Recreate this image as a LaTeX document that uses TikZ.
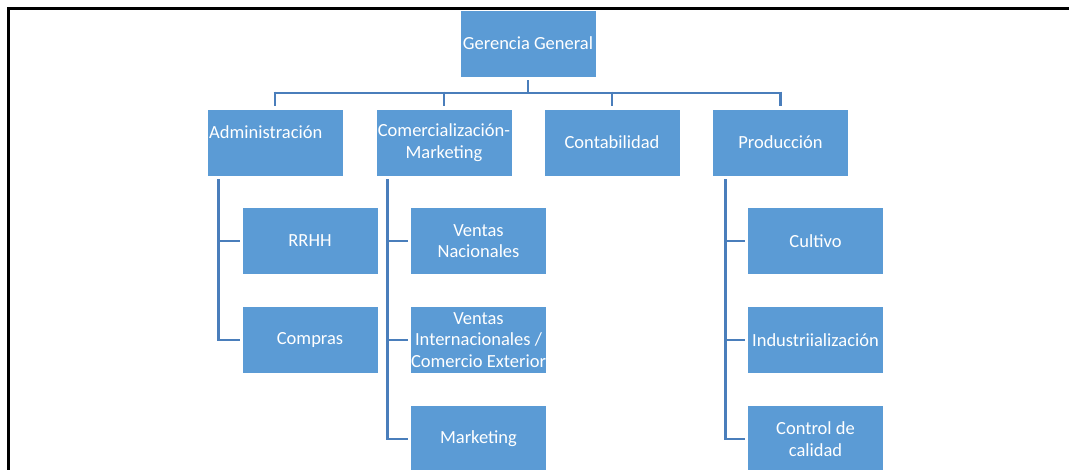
\documentclass[tikz,border=0pt]{standalone}
\usepackage{fontspec}
\setmainfont{Carlito}
\definecolor{boxblue}{RGB}{91,155,213}
\definecolor{linkblue}{RGB}{74,126,187}
\begin{document}
\begin{tikzpicture}[x=1pt,y=-1pt,
  orgbox/.style={fill=boxblue,draw=white,line width=0.8pt,minimum width=136pt,minimum height=67pt,
    inner sep=0pt,text=white,align=center,font=\fontsize{18.5}{21.5}\selectfont},
  conn/.style={draw=linkblue,line width=2.8pt}]
\useasboundingbox (0,0) rectangle (1069,470);
\clip (0,0) rectangle (1069,470);
% frame
\draw[line width=3pt,black] (8,475) -- (8,8.5) -- (1075,8.5);
% top
\node[orgbox] (g) at (528,43.5) {Gerencia General};
% level 2
\node[orgbox] (adm) at (275,142.5) {};
\node[text=white,anchor=west,inner sep=0pt,font=\fontsize{18.5}{21.5}\selectfont] (admt) at (209,132.5) {Administración};
\node[orgbox] (com) at (444,142.5) {Comercialización-\\Marketing};
\node[orgbox] (con) at (612,142.5) {Contabilidad};
\node[orgbox] (pro) at (780.5,142.5) {Producción};
% level 3
\node[orgbox] (rrhh) at (310,241) {RRHH};
\node[orgbox] (comp) at (310,340) {Compras};
\node[orgbox] (vn) at (478.5,241) {Ventas\\Nacionales};
\node[orgbox] (vi) at (478.5,340) {Ventas\\Internacionales /\\Comercio Exterior};
\node[orgbox] (mkt) at (478.5,439) {Marketing};
\node[orgbox] (cul) at (815.5,241) {Cultivo};
\node[orgbox] (ind) at (815.5,340) {Industriialización};
\node[orgbox] (cc) at (815.5,439) {Control de\\calidad};
% connectors top
\coordinate (bar) at (0,93);
\draw[conn] ([yshift=-3pt]g.south) -- (g.south |- bar);
\draw[conn] ([xshift=-1.4pt]adm.north |- bar) -- ([xshift=1.4pt]pro.north |- bar);
\foreach \n in {adm,com,con,pro}{
  \draw[conn] ([yshift=1.4pt]\n.north |- bar) -- ([yshift=3pt]\n.north);
}
% side connectors
\coordinate (admv) at ([xshift=12pt,yshift=-3pt]adm.south west);
\coordinate (comv) at ([xshift=12pt,yshift=-3pt]com.south west);
\coordinate (prov) at ([xshift=13pt,yshift=-3pt]pro.south west);
\draw[conn] (admv) -- (admv |- comp.west) -- ([xshift=-2pt]comp.west);
\draw[conn] (admv |- rrhh.west) -- ([xshift=-2pt]rrhh.west);
\draw[conn] (comv) -- (comv |- mkt.west) -- ([xshift=-2pt]mkt.west);
\draw[conn] (comv |- vn.west) -- ([xshift=-2pt]vn.west);
\draw[conn] (comv |- vi.west) -- ([xshift=-2pt]vi.west);
\draw[conn] (prov) -- (prov |- cc.west) -- ([xshift=-2pt]cc.west);
\draw[conn] (prov |- cul.west) -- ([xshift=-2pt]cul.west);
\draw[conn] (prov |- ind.west) -- ([xshift=-2pt]ind.west);
\end{tikzpicture}
\end{document}
